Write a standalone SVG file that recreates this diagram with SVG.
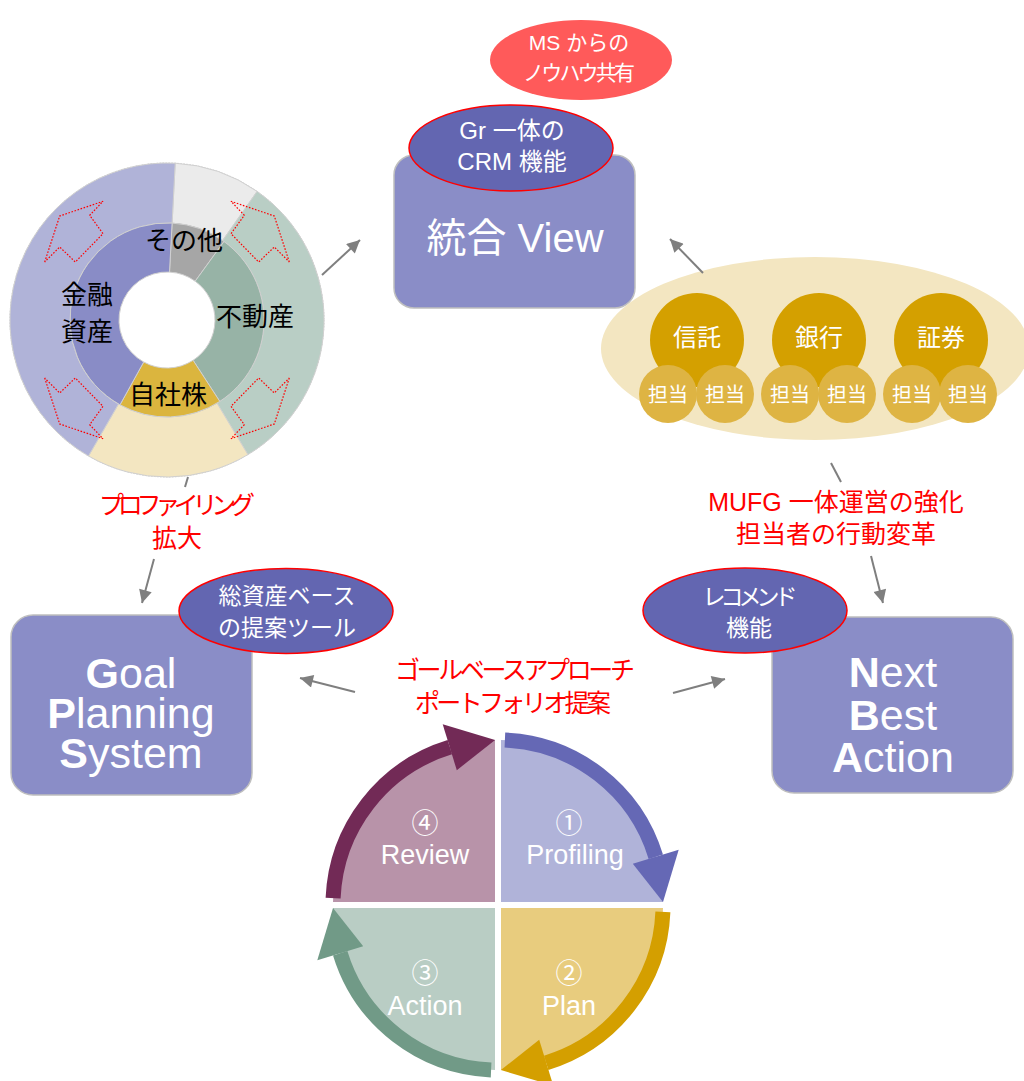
<svg xmlns="http://www.w3.org/2000/svg" xmlns:xlink="http://www.w3.org/1999/xlink" width="1024" height="1081" viewBox="0 0 1024 1081">
<style>
text{font-family:"Liberation Sans","Noto Sans CJK JP",sans-serif;text-anchor:middle}
.jp{font-family:"Noto Sans CJK JP","Liberation Sans",sans-serif}
.w{fill:#FFFFFF}
.red{fill:#FF0000;font-size:25px}
.blk{fill:#000000;font-size:26px}
.box{fill:#8A8DC7;stroke:#BFBFBF;stroke-width:1.5}
.bub{fill:#6366B1;stroke:#FF0000;stroke-width:1.5}
.seg{stroke:#D0D0D0;stroke-width:1}
.dash{fill:none;stroke:#FF0000;stroke-width:1.2;stroke-dasharray:1.6 1.6}
.con{stroke:#7F7F7F;stroke-width:2;fill:none}
.big{font-size:43px}
.bubt{font-size:23px}
.cyc{font-size:27px}
</style>
<defs>
<marker id="ah" viewBox="0 0 10 10" refX="10" refY="5" markerWidth="15" markerHeight="13" markerUnits="userSpaceOnUse" orient="auto">
<path d="M0,0 L10,5 L0,10 Z" fill="#7F7F7F"/>
</marker>
<g id="cycArrow">
<path d="M504.9,740.1 A165,165 0 0 1 655.8,856.8" fill="none" stroke="currentColor" stroke-width="15"/>
<polygon points="632.8,863.8 678.7,849.7 663,902.1" fill="currentColor"/>
</g>
</defs>

<!-- Donut chart -->
<g id="donut">
<circle cx="167" cy="320" r="157" fill="none" stroke="#C8C8C8" stroke-width="1" stroke-dasharray="1.5 1.5"/>
<path class="seg" fill="#EBEBEB" d="M175.2,163.2 A157,157 0 0 1 257.1,191.4 L222.6,240.5 A97,97 0 0 0 172.1,223.1 Z"/>
<path class="seg" fill="#B9CEC5" d="M257.1,191.4 A157,157 0 0 1 247.9,454.6 L217.0,403.1 A97,97 0 0 0 222.6,240.5 Z"/>
<path class="seg" fill="#F3E6C1" d="M247.9,454.6 A157,157 0 0 1 88.5,456.0 L118.5,404.0 A97,97 0 0 0 217.0,403.1 Z"/>
<path class="seg" fill="#B0B3D8" d="M88.5,456.0 A157,157 0 0 1 175.2,163.2 L172.1,223.1 A97,97 0 0 0 118.5,404.0 Z"/>
<path class="seg" fill="#A6A6A6" d="M172.1,223.1 A97,97 0 0 1 224.0,241.5 L195.2,281.2 A48,48 0 0 0 169.5,272.1 Z"/>
<path class="seg" fill="#97B3A6" d="M224.0,241.5 A97,97 0 0 1 219.8,401.4 L193.1,360.3 A48,48 0 0 0 195.2,281.2 Z"/>
<path class="seg" fill="#DBB53E" d="M219.8,401.4 A97,97 0 0 1 120.0,404.8 L143.7,362.0 A48,48 0 0 0 193.1,360.3 Z"/>
<path class="seg" fill="#898CC6" d="M120.0,404.8 A97,97 0 0 1 172.1,223.1 L169.5,272.1 A48,48 0 0 0 143.7,362.0 Z"/>
<polygon class="dash" points="44.7,262 59.7,216 103,201.3 89.7,215.3 103,233.7 75.3,262 59.7,247"/>
<polygon class="dash" points="289.3,262 274.3,216 231,201.3 244.3,215.3 231,233.7 258.7,262 274.3,247"/>
<polygon class="dash" points="289.3,378 274.3,424 231,438.7 244.3,424.7 231,406.3 258.7,378 274.3,393"/>
<polygon class="dash" points="44.7,378 59.7,424 103,438.7 89.7,424.7 103,406.3 75.3,378 59.7,393"/>
<text class="blk jp" x="184" y="250">その他</text>
<text class="blk jp"><tspan x="87" y="304">金融</tspan><tspan x="87" y="341">資産</tspan></text>
<text class="blk jp" x="255" y="326">不動産</text>
<text class="blk jp" x="168" y="404">自社株</text>
</g>

<!-- MS bubble -->
<g id="ms-bubble">
<ellipse cx="581" cy="60" rx="91" ry="40" fill="#FF5A5A"/>
<text class="w" font-size="21"><tspan x="579" y="50">MS からの</tspan><tspan class="jp" x="579" y="80" textLength="112" lengthAdjust="spacing">ノウハウ共有</tspan></text>
</g>

<!-- Integrated View -->
<g id="integrated-view">
<rect class="box" x="394" y="155" width="241" height="153" rx="20"/>
<text class="w" x="515" y="252" font-size="40">統合 View</text>
</g>
<g id="crm-bubble">
<ellipse class="bub" cx="511" cy="148" rx="102" ry="43"/>
<text class="w" font-size="24"><tspan x="512" y="139">Gr 一体の</tspan><tspan x="512" y="170">CRM 機能</tspan></text>
</g>

<!-- Group companies -->
<g id="group-companies">
<ellipse cx="815" cy="348.5" rx="214" ry="91.5" fill="#F3E6C1"/>
<circle cx="697" cy="340" r="47" fill="#D4A000"/>
<circle cx="819" cy="340" r="47" fill="#D4A000"/>
<circle cx="941" cy="340" r="47" fill="#D4A000"/>
<text class="w jp" x="697" y="346" font-size="24">信託</text>
<text class="w jp" x="819" y="346" font-size="24">銀行</text>
<text class="w jp" x="941" y="346" font-size="24">証券</text>
<g fill="#DEB443">
<circle cx="668" cy="394" r="29"/>
<circle cx="725" cy="394" r="29"/>
<circle cx="790" cy="394" r="29"/>
<circle cx="847" cy="394" r="29"/>
<circle cx="912" cy="394" r="29"/>
<circle cx="968" cy="394" r="29"/>
</g>
<g font-size="20">
<text class="w jp" x="668" y="402">担当</text>
<text class="w jp" x="725" y="402">担当</text>
<text class="w jp" x="790" y="402">担当</text>
<text class="w jp" x="847" y="402">担当</text>
<text class="w jp" x="912" y="402">担当</text>
<text class="w jp" x="968" y="402">担当</text>
</g>
</g>

<!-- Red labels -->
<g id="label-profiling">
<text class="red jp"><tspan x="177" y="514" textLength="156" lengthAdjust="spacing">プロファイリング</tspan><tspan x="177" y="547">拡大</tspan></text>
</g>
<g id="label-mufg">
<text class="red"><tspan x="836" y="511">MUFG 一体運営の強化</tspan><tspan class="jp" x="836" y="543">担当者の行動変革</tspan></text>
</g>
<g id="label-goalbased">
<text class="red jp"><tspan x="515" y="679" textLength="240" lengthAdjust="spacing">ゴールベースアプローチ</tspan><tspan x="513" y="712" textLength="196" lengthAdjust="spacing">ポートフォリオ提案</tspan></text>
</g>

<!-- Goal Planning System -->
<g id="goal-planning-system">
<rect class="box" x="11" y="615" width="241" height="180" rx="22"/>
<text class="w big"><tspan x="131" y="688"><tspan font-weight="bold">G</tspan>oal</tspan><tspan x="131" y="728"><tspan font-weight="bold">P</tspan>lanning</tspan><tspan x="131" y="768"><tspan font-weight="bold">S</tspan>ystem</tspan></text>
</g>
<g id="tool-bubble">
<ellipse class="bub" cx="286" cy="611" rx="107" ry="42.5"/>
<text class="w bubt jp"><tspan x="287" y="604">総資産ベース</tspan><tspan x="287" y="636">の提案ツール</tspan></text>
</g>

<!-- Next Best Action -->
<g id="next-best-action">
<rect class="box" x="772" y="617" width="241" height="176" rx="22"/>
<text class="w big"><tspan x="893" y="687"><tspan font-weight="bold">N</tspan>ext</tspan><tspan x="893" y="730"><tspan font-weight="bold">B</tspan>est</tspan><tspan x="893" y="772"><tspan font-weight="bold">A</tspan>ction</tspan></text>
</g>
<g id="recommend-bubble">
<ellipse class="bub" cx="745" cy="610.5" rx="102" ry="42.5"/>
<text class="w bubt jp"><tspan x="750" y="605" textLength="95" lengthAdjust="spacing">レコメンド</tspan><tspan x="749" y="636">機能</tspan></text>
</g>

<!-- PDCA cycle -->
<g id="cycle">
<path id="q-profiling" fill="#B0B3D9" d="M501,902 V740 A162,162 0 0 1 663,902 Z"/>
<path id="q-plan" fill="#E8CC7E" d="M501,908 H663 A162,162 0 0 1 501,1070 Z"/>
<path id="q-action" fill="#B9CDC4" d="M495,908 V1070 A162,162 0 0 1 333,908 Z"/>
<path id="q-review" fill="#B893A9" d="M495,902 H333 A162,162 0 0 1 495,740 Z"/>
<use xlink:href="#cycArrow" href="#cycArrow" color="#6568B5"/>
<use xlink:href="#cycArrow" href="#cycArrow" color="#D49F00" transform="rotate(90 498 905)"/>
<use xlink:href="#cycArrow" href="#cycArrow" color="#719A87" transform="rotate(180 498 905)"/>
<use xlink:href="#cycArrow" href="#cycArrow" color="#722A56" transform="rotate(270 498 905)"/>
<text class="w cyc"><tspan class="jp" x="569" y="833">①</tspan><tspan x="575" y="864">Profiling</tspan></text>
<text class="w cyc"><tspan class="jp" x="569" y="983">②</tspan><tspan x="569" y="1015">Plan</tspan></text>
<text class="w cyc"><tspan class="jp" x="425" y="983">③</tspan><tspan x="425" y="1015">Action</tspan></text>
<text class="w cyc"><tspan class="jp" x="425" y="833">④</tspan><tspan x="425" y="864">Review</tspan></text>
</g>

<!-- Connectors -->
<g id="connectors">
<line class="con" x1="322" y1="275" x2="360" y2="240" marker-end="url(#ah)"/>
<line class="con" x1="703" y1="273" x2="670" y2="239" marker-end="url(#ah)"/>
<line class="con" x1="188" y1="477" x2="185" y2="487"/>
<line class="con" x1="154" y1="559" x2="142" y2="603" marker-end="url(#ah)"/>
<line class="con" x1="831" y1="463" x2="841" y2="482"/>
<line class="con" x1="871" y1="556" x2="883" y2="603" marker-end="url(#ah)"/>
<line class="con" x1="355" y1="692" x2="300" y2="678" marker-end="url(#ah)"/>
<line class="con" x1="673" y1="693" x2="725" y2="679" marker-end="url(#ah)"/>
</g>
</svg>
